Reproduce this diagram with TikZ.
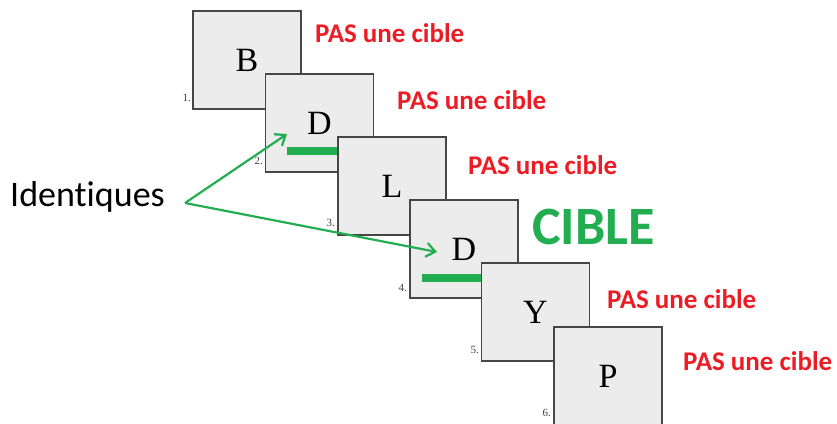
\documentclass[tikz,border=0pt]{standalone}
\usepackage{fontspec}
\setmainfont{Liberation Serif}
\newfontfamily\calibri[RawFeature={-liga}]{Carlito}
\usetikzlibrary{arrows.meta}
\definecolor{grn}{RGB}{34,174,80}
\definecolor{rd}{RGB}{237,28,36}
\definecolor{boxfill}{RGB}{236,236,236}
\definecolor{boxline}{RGB}{70,70,70}
\begin{document}
\begin{tikzpicture}[x=1pt,y=-1pt,
  card/.style={draw=boxline, line width=1.3pt, fill=boxfill, minimum width=108pt, minimum height=98pt, inner sep=0pt, font=\fontsize{34}{40}\selectfont},
  num/.style={font=\fontsize{11}{12}\selectfont, anchor=east, inner sep=0pt, text=black!75},
  notlbl/.style={text=rd, font=\calibri\bfseries\fontsize{27}{32}\selectfont, anchor=west, inner sep=0pt},
  greenbar/.style={draw=grn, line width=8pt},
  garrow/.style={draw=grn, line width=2.2pt, -{Straight Barb[length=9pt,width=14pt,line width=2.2pt]}}]
\useasboundingbox (0,0) rectangle (837,423);

\node[card] (b1) at (247,60) {B};
\node[num] (n1) at (191,98) {1.};
\node[notlbl] (l1) at (315,33) {PAS une cible};

\node[card] (b2) at (319.5,123) {D};
\node[num] (n2) at (263,161) {2.};
\node[notlbl] (l2) at (397,100) {PAS une cible};
\coordinate (g2a) at (287,151);
\coordinate (g2b) at (340,151);
\draw[greenbar] (g2a) -- (g2b);

\node[card] (b3) at (392,186) {L};
\node[num] (n3) at (335,223) {3.};
\node[notlbl] (l3) at (468,165) {PAS une cible};

\node[card] (b4) at (464,249) {D};
\node[num] (n4) at (407,288) {4.};
\node[text=grn, font=\calibri\bfseries\fontsize{54}{62}\selectfont, anchor=west, inner sep=0pt] (cible) at (532,227) {CIBLE};
\coordinate (g4a) at (422,278);
\coordinate (g4b) at (484,278);
\draw[greenbar] (g4a) -- (g4b);

\node[card] (b5) at (535.5,312) {Y};
\node[num] (n5) at (479,350) {5.};
\node[notlbl] (l5) at (607,299) {PAS une cible};

\node[card] (b6) at (608,376) {P};
\node[num] (n6) at (551,413) {6.};
\node[notlbl] (l6) at (683,361) {PAS une cible};

\node[font=\calibri\fontsize{36}{43}\selectfont, anchor=west, inner sep=0pt] (ident) at (10,197) {Identiques};
\coordinate (apex) at (185,203);
\coordinate (t1) at (287,134);
\coordinate (t2) at (437,252);
\draw[garrow] (apex) -- (t1);
\draw[garrow] (apex) -- (t2);
\end{tikzpicture}
\end{document}
